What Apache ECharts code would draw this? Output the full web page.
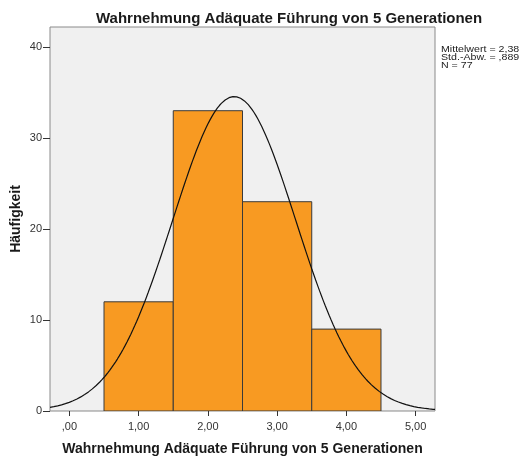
<!DOCTYPE html>
<html>
<head>
<meta charset="utf-8">
<script src="https://cdn.jsdelivr.net/npm/echarts@6/dist/echarts.min.js"></script>
<style>
  html, body { margin: 0; padding: 0; background: #fff; }
  #chart { width: 522px; height: 457px; }
</style>
</head>
<body>
<div id="chart"></div>
<script>
// Histogram bins (lower edge, upper edge) and counts
const binStarts = [0.5, 1.5, 2.5, 3.5];
const binEnds = [1.5, 2.5, 3.5, 4.5];
const counts = [12, 33, 23, 9];

// Summary statistics shown beside the plot
const mean = 2.38;
const stdDev = 0.889;
const nCases = 77;

// Axis ticks
const xTicks = [0, 1, 2, 3, 4, 5];
const yTicks = [0, 10, 20, 30, 40];
const xMin = -0.28, xMax = 5.28, yMax = 42.2;

const fmtComma = v => {
  const s = v.toFixed(2).replace('.', ',');
  return s.startsWith('0,') ? s.slice(1) : s;
};

// Normal curve scaled to counts (bin width 1)
const binWidth = 1;
const curve = [];
for (let i = 0; i <= 200; i++) {
  const x = xMin + (xMax - xMin) * i / 200;
  const z = (x - mean) / stdDev;
  const y = nCases * binWidth / (stdDev * Math.sqrt(2 * Math.PI)) * Math.exp(-0.5 * z * z);
  curve.push([x, y]);
}

const barData = binStarts.map((s, i) => [s, binEnds[i], counts[i]]);

const chart = echarts.init(document.getElementById('chart'), null, { renderer: 'canvas' });
const font = 'Arial, "Liberation Sans", sans-serif';

chart.setOption({
  animation: false,
  backgroundColor: '#ffffff',
  title: {
    text: 'Wahrnehmung Adäquate Führung von 5 Generationen',
    left: 91, top: 6,
    textStyle: { fontFamily: font, fontSize: 15, fontWeight: 'bold', color: '#1a1a1a' }
  },
  graphic: [{
    type: 'text', x: 441, y: 46, scaleX: 1.18,
    style: {
      text: 'Mittelwert = ' + mean.toFixed(2).replace('.', ',') +
            '\nStd.-Abw. = ' + stdDev.toFixed(3).replace('0.', ',') +
            '\nN = ' + nCases,
      font: '9px ' + font, fill: '#222', lineHeight: 8
    }
  }],
  grid: {
    left: 50, right: 87, top: 27, bottom: 46,
    outerBoundsMode: 'none', containLabel: false,
    show: true, backgroundColor: '#f0f0f0', borderColor: '#8a8a8a', borderWidth: 1
  },
  xAxis: {
    type: 'value', min: xMin, max: xMax,
    name: 'Wahrnehmung Adäquate Führung von 5 Generationen',
    nameLocation: 'middle', nameGap: 31, nameMoveOverlap: false,
    nameTextStyle: { fontFamily: font, fontSize: 14, fontWeight: 'bold', color: '#1a1a1a' },
    axisLine: { show: false, onZero: false },
    splitLine: { show: false },
    axisTick: { show: true, length: 5, customValues: xTicks, lineStyle: { color: '#333' } },
    axisLabel: {
      customValues: xTicks, formatter: v => fmtComma(v),
      fontFamily: font, fontSize: 11, color: '#333', margin: 10
    }
  },
  yAxis: {
    type: 'value', min: 0, max: yMax,
    name: 'Häufigkeit', nameLocation: 'middle', nameGap: 27, nameMoveOverlap: false,
    nameTextStyle: { fontFamily: font, fontSize: 14, fontWeight: 'bold', color: '#1a1a1a' },
    axisLine: { show: false, onZero: false },
    splitLine: { show: false },
    axisTick: { show: true, length: 7, customValues: yTicks, lineStyle: { color: '#333' } },
    axisLabel: {
      customValues: yTicks, fontFamily: font, fontSize: 11, color: '#333', margin: 8
    }
  },
  series: [
    {
      type: 'custom',
      data: barData,
      encode: { x: [0, 1], y: 2 },
      clip: true,
      renderItem: (params, api) => {
        const p0 = api.coord([api.value(0), api.value(2)]);
        const p1 = api.coord([api.value(1), 0]);
        return {
          type: 'rect',
          shape: { x: p0[0], y: p0[1], width: p1[0] - p0[0], height: p1[1] - p0[1] },
          style: { fill: '#f89a22', stroke: '#3a3a3a', lineWidth: 1 }
        };
      },
      z: 2
    },
    {
      type: 'line', data: curve, showSymbol: false, smooth: false,
      lineStyle: { color: '#111', width: 1.2 }, z: 3, silent: true
    }
  ]
});
</script>
</body>
</html>
